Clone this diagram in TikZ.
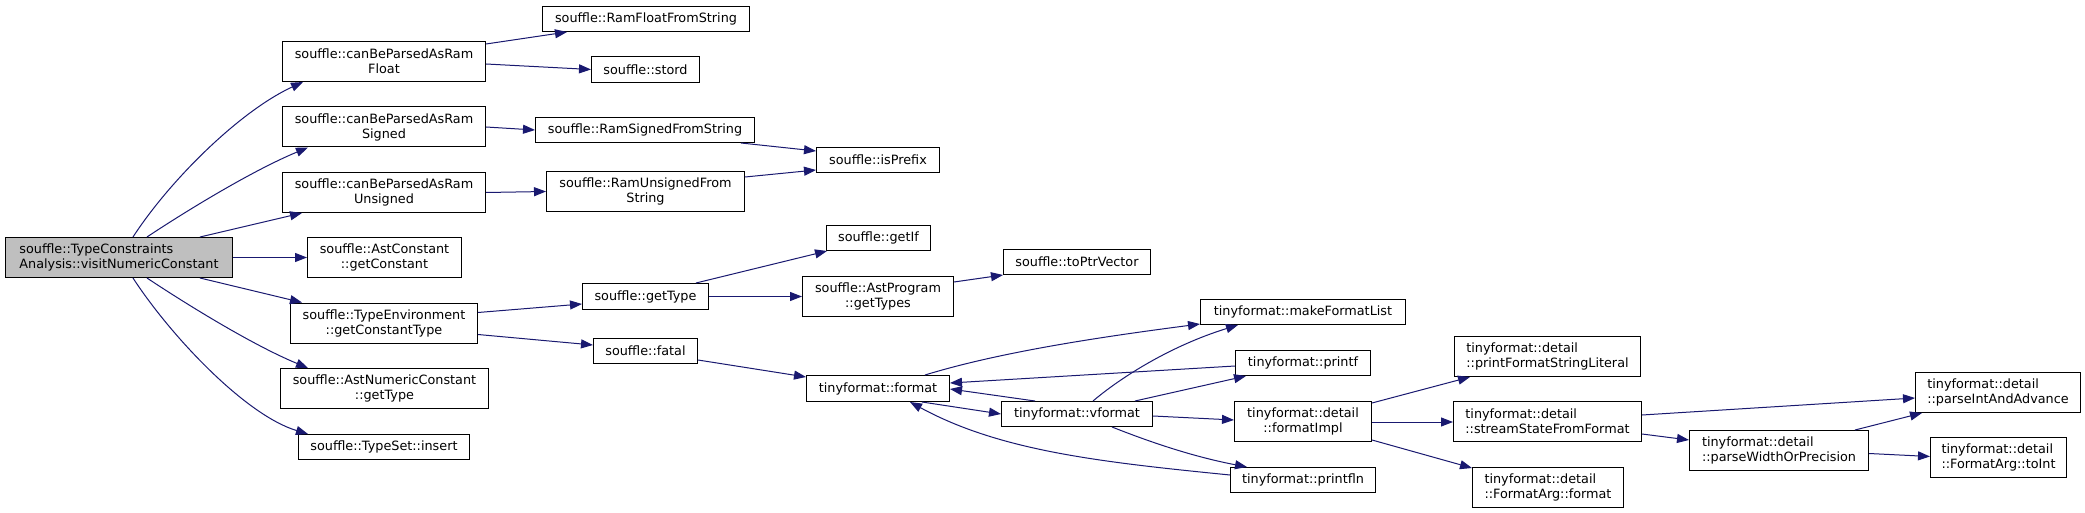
\documentclass[tikz,border=0pt]{standalone}
\usepackage{fontspec}
\setmainfont{DejaVu Sans}
\usetikzlibrary{arrows.meta,calc}
\definecolor{edgeblue}{RGB}{25,25,112}
\definecolor{rootgray}{RGB}{191,191,191}
\begin{document}
\begin{tikzpicture}[x=1pt,y=-1pt,
  box/.style={draw=black, fill=white, line width=1pt, inner sep=0pt, align=center, font=\fontsize{12.8}{15}\selectfont},
  lbox/.style={box, align=left},
  edge/.style={draw=edgeblue, line width=1pt, -{Triangle[length=12pt,width=9pt]}}]
\useasboundingbox (0,0) rectangle (2085,513);
\fill[white] (0,0) rectangle (2085,513);
\begin{scope}[shift={(0.5,0.5)}]
% nodes
\node[lbox, fill=rootgray, minimum width=227pt, minimum height=40pt] (root) at (118.5,257) {souffle::TypeConstraints\\Analysis::visitNumericConstant};
\node[box, minimum width=203pt, minimum height=40pt] (flt) at (383.5,61) {souffle::canBeParsedAsRam\\Float};
\node[box, minimum width=203pt, minimum height=40pt] (sgn) at (383.5,126.5) {souffle::canBeParsedAsRam\\Signed};
\node[box, minimum width=203pt, minimum height=40pt] (uns) at (383.5,192) {souffle::canBeParsedAsRam\\Unsigned};
\node[box, minimum width=154pt, minimum height=40pt] (gcn) at (384,257) {souffle::AstConstant\\::getConstant};
\node[box, minimum width=187pt, minimum height=40pt] (gct) at (383.5,322.5) {souffle::TypeEnvironment\\::getConstantType};
\node[box, minimum width=208pt, minimum height=40pt] (ant) at (384,388) {souffle::AstNumericConstant\\::getType};
\node[box, minimum width=171pt, minimum height=25pt] (tsi) at (383.5,446.5) {souffle::TypeSet::insert};
\node[box, minimum width=207pt, minimum height=25pt] (rff) at (645.5,18.5) {souffle::RamFloatFromString};
\node[box, minimum width=108pt, minimum height=26pt] (std) at (645,69) {souffle::stord};
\node[box, minimum width=219pt, minimum height=25pt] (rsf) at (644.5,129.5) {souffle::RamSignedFromString};
\node[box, minimum width=198pt, minimum height=40pt] (ruf) at (645,191) {souffle::RamUnsignedFrom\\String};
\node[box, minimum width=123pt, minimum height=25pt] (isp) at (877.5,159.5) {souffle::isPrefix};
\node[box, minimum width=126pt, minimum height=26pt] (gty) at (645,296) {souffle::getType};
\node[box, minimum width=104pt, minimum height=25pt] (fat) at (645,350.5) {souffle::fatal};
\node[box, minimum width=104pt, minimum height=25pt] (gif) at (878,237.5) {souffle::getIf};
\node[box, minimum width=151pt, minimum height=40pt] (gts) at (877.5,296) {souffle::AstProgram\\::getTypes};
\node[box, minimum width=147pt, minimum height=25pt] (tpv) at (1076.5,261.5) {souffle::toPtrVector};
\node[box, minimum width=143pt, minimum height=26pt] (fmt) at (877.5,388) {tinyformat::format};
\node[box, minimum width=151pt, minimum height=25pt] (vfm) at (1076.5,413.5) {tinyformat::vformat};
\node[box, minimum width=205pt, minimum height=25pt] (mfl) at (1302.5,311.5) {tinyformat::makeFormatList};
\node[box, minimum width=135pt, minimum height=25pt] (ptf) at (1302.5,362.5) {tinyformat::printf};
\node[box, minimum width=137pt, minimum height=40pt] (fim) at (1302.5,421) {tinyformat::detail\\::formatImpl};
\node[box, minimum width=145pt, minimum height=25pt] (pfl) at (1302.5,479.5) {tinyformat::printfln};
\node[lbox, minimum width=186pt, minimum height=40pt] (pfs) at (1547,356) {tinyformat::detail\\::printFormatStringLiteral};
\node[lbox, minimum width=188pt, minimum height=40pt] (ssf) at (1547,421) {tinyformat::detail\\::streamStateFromFormat};
\node[lbox, minimum width=151pt, minimum height=40pt] (fag) at (1547.5,487) {tinyformat::detail\\::FormatArg::format};
\node[lbox, minimum width=179pt, minimum height=40pt] (pwp) at (1778.5,450) {tinyformat::detail\\::parseWidthOrPrecision};
\node[lbox, minimum width=165pt, minimum height=40pt] (pia) at (1997.5,392) {tinyformat::detail\\::parseIntAndAdvance};
\node[lbox, minimum width=136pt, minimum height=40pt] (toi) at (1998,457) {tinyformat::detail\\::FormatArg::toInt};
% edges
\draw[edge] ($(root.north west)+(128,0)$) .. controls +(37,-57) and +(-63,29) .. ($(flt.south west)+(21,0)$);
\draw[edge] ($(root.north west)+(142,0)$) .. controls +(33,-22) and +(-58,24) .. ($(sgn.south west)+(26,0)$);
\draw[edge] ($(root.north west)+(195,0)$) -- ($(uns.south west)+(20,0)$);
\draw[edge] (root.east) -- (gcn.west);
\draw[edge] ($(root.south west)+(195,0)$) -- ($(gct.north west)+(12,0)$);
\draw[edge] ($(root.south west)+(142,0)$) .. controls +(33,22) and +(-58,-24) .. ($(ant.north west)+(28,0)$);
\draw[edge] ($(root.south west)+(128,0)$) .. controls +(37,57) and +(-63,-19) .. ($(tsi.north west)+(10,0)$);
\draw[edge] ($(flt.north east)+(0,3)$) -- ($(rff.south west)+(25,0)$);
\draw[edge] ($(flt.north east)+(0,23)$) -- (std.west);
\draw[edge] (sgn.east) -- (rsf.west);
\draw[edge] (uns.east) -- (ruf.west);
\draw[edge] ($(rsf.south east)+(-14,0)$) -- ($(isp.north west)+(0,4)$);
\draw[edge] ($(ruf.north east)+(0,6)$) -- ($(isp.south west)+(0,-3)$);
\draw[edge] ($(gct.north east)+(0,10)$) -- ($(gty.south west)+(0,-6)$);
\draw[edge] ($(gct.south east)+(0,-9)$) -- ($(fat.north west)+(0,7)$);
\draw[edge] ($(gty.north east)+(-13,0)$) -- ($(gif.south west)+(1,0)$);
\draw[edge] (gty.east) -- (gts.west);
\draw[edge] ($(gts.north east)+(0,6)$) -- (tpv.south west);
\draw[edge] ($(fat.south east)+(0,-4)$) -- ($(fmt.north west)+(0,2)$);
\draw[edge] ($(fmt.north west)+(119,0)$) .. controls +(75,-23) and +(-100,13) .. ($(mfl.south west)+(0,-1)$);
\draw[edge] ($(vfm.north west)+(92,0)$) .. controls +(27,-23) and +(-68,21) .. ($(mfl.south west)+(38,0)$);
\draw[edge] ($(ptf.north west)+(0,16)$) -- ($(fmt.north east)+(0,8)$);
\draw[edge] ($(vfm.north west)+(34,0)$) -- ($(fmt.north east)+(0,14)$);
\draw[edge] ($(fmt.south west)+(116,0)$) -- (vfm.west);
\draw[edge] ($(vfm.north west)+(134,0)$) -- ($(ptf.south west)+(11,0)$);
\draw[edge] ($(vfm.north east)+(0,15)$) -- ($(fim.north west)+(0,19)$);
\draw[edge] ($(vfm.south west)+(111,0)$) .. controls +(48,19) and +(-47,-9) .. ($(pfl.north west)+(17,0)$);
\draw[edge] ($(pfl.north west)+(0,8)$) .. controls +(-130,-13) and +(90,49) .. ($(fmt.south west)+(104,0)$);
\draw[edge] ($(fim.north east)+(0,2)$) -- ($(pfs.south west)+(16,0)$);
\draw[edge] ($(fim.east)+(0,0.5)$) -- ($(ssf.west)+(0,0.5)$);
\draw[edge] ($(fim.south east)+(0,-2)$) -- ($(fag.north west)+(0,1)$);
\draw[edge] ($(ssf.north east)+(0,14)$) -- ($(pia.north west)+(0,26)$);
\draw[edge] ($(ssf.south east)+(0,-8)$) -- ($(pwp.north west)+(0,10)$);
\draw[edge] ($(pwp.north west)+(166,0)$) -- ($(pia.south west)+(7,0)$);
\draw[edge] ($(pwp.east)+(0,3)$) -- ($(toi.west)+(0,-1)$);
\end{scope}
\end{tikzpicture}
\end{document}
